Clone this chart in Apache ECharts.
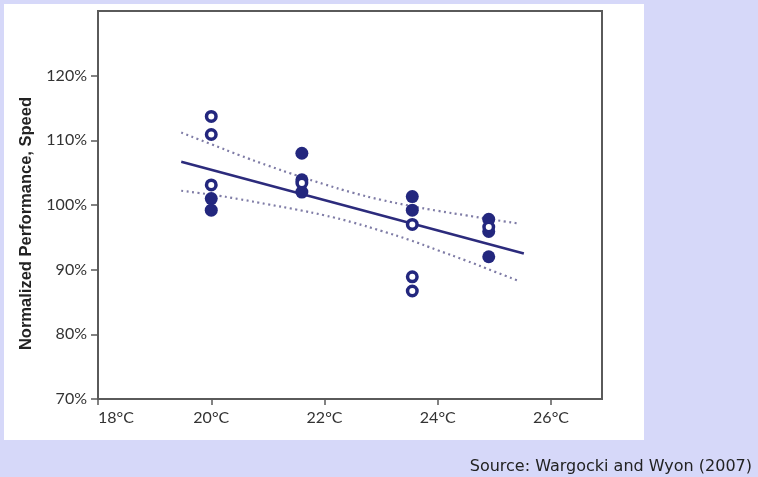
<!DOCTYPE html>
<html>
<head>
<meta charset="utf-8">
<script src="https://cdn.jsdelivr.net/npm/echarts@6/dist/echarts.min.js"></script>
<style>html,body{margin:0;padding:0;background:#d6d8f9;}#c{width:758px;height:477px;}</style>
</head>
<body>
<div id="c"></div>
<script>
// Tick labels
const xTicks = [18, 20, 22, 24, 26];
const yTicks = [70, 80, 90, 100, 110, 120];
// Open-circle observations [temperature °C, normalized performance %]
const openPoints = [[20, 113.7], [20, 110.9], [20, 103.1], [21.6, 103.4], [23.55, 97.0], [23.55, 88.9], [23.55, 86.7], [24.9, 96.6]];
// Filled-circle observations
const filledPoints = [[20, 101.0], [20, 99.2], [21.6, 108.0], [21.6, 103.9], [21.6, 102.0], [23.55, 101.3], [23.55, 99.2], [24.9, 97.8], [24.9, 95.9], [24.9, 92.0]];
// Regression line endpoints
const fitLine = [[19.47, 106.7], [25.52, 92.5]];
// Confidence band
const bandTemps = [19.47, 20, 20.5, 21, 21.5, 22, 22.5, 23, 23.5, 24, 24.5, 25, 25.45];
const bandUpper = [111.2, 109.4, 107.7, 106.1, 104.6, 103.2, 101.9, 100.8, 99.9, 99.1, 98.4, 97.7, 97.1];
const bandLower = [102.2, 101.6, 100.9, 100.1, 99.3, 98.4, 97.3, 96.0, 94.6, 93.0, 91.4, 89.7, 88.2];

const navy = '#23277e';
const chart = echarts.init(document.getElementById('c'), null, {renderer: 'canvas'});
const upperData = bandTemps.map((t, i) => [t, bandUpper[i]]);
const lowerData = bandTemps.map((t, i) => [t, bandLower[i]]);
const labelFont = 'Lato';

chart.setOption({
  backgroundColor: '#d6d8f9',
  animation: false,
  title: {
    text: 'Source: Wargocki and Wyon (2007)',
    right: 6, top: 459, padding: 0,
    textStyle: {fontFamily: 'DejaVu Sans', fontSize: 16, fontWeight: 'normal', color: '#222'}
  },
  graphic: [{
    type: 'rect', z: -10, silent: true,
    shape: {x: 4, y: 4, width: 640, height: 436},
    style: {fill: '#ffffff'}
  }],
  grid: {left: 98, right: 156, top: 11, bottom: 78, show: true, borderColor: '#5a5a5a', borderWidth: 2, backgroundColor: '#ffffff'},
  xAxis: {
    type: 'value', min: 18, max: 26.9,
    axisLine: {show: true, lineStyle: {color: '#5a5a5a', width: 2}},
    axisTick: {show: true, length: 6, lineStyle: {color: '#5a5a5a', width: 1.5}, customValues: xTicks},
    axisLabel: {customValues: xTicks, formatter: v => v + '°C', margin: 11, color: '#333', fontFamily: labelFont, fontSize: 16, alignMinLabel: 'left'},
    splitLine: {show: false}
  },
  yAxis: {
    type: 'value', min: 70, max: 130,
    name: 'Normalized Performance, Speed',
    nameLocation: 'middle', nameGap: 61,
    nameTextStyle: {fontFamily: 'Liberation Sans', fontWeight: 'bold', fontSize: 16.5, color: '#222', padding: [0, 37, 0, 0]},
    axisLine: {show: true, lineStyle: {color: '#5a5a5a', width: 2}},
    axisTick: {show: true, length: 7, lineStyle: {color: '#5a5a5a', width: 1.5}, customValues: yTicks},
    axisLabel: {customValues: yTicks, formatter: v => v + '%', margin: 11, color: '#333', fontFamily: labelFont, fontSize: 16},
    splitLine: {show: false}
  },
  series: [
    {type: 'line', data: upperData, smooth: true, symbol: 'none', z: 2,
     lineStyle: {color: '#7f7ca6', width: 2.2, type: [2, 3.5]}},
    {type: 'line', data: lowerData, smooth: true, symbol: 'none', z: 2,
     lineStyle: {color: '#7f7ca6', width: 2.2, type: [2, 3.5]}},
    {type: 'line', data: fitLine, symbol: 'none', z: 3,
     lineStyle: {color: '#2c2b7c', width: 2.5}},
    {type: 'scatter', data: filledPoints, symbol: 'circle', symbolSize: 13, z: 4,
     itemStyle: {color: navy, opacity: 1}},
    {type: 'scatter', data: openPoints, symbol: 'circle', symbolSize: 9.5, z: 5,
     itemStyle: {color: '#ffffff', borderColor: navy, borderWidth: 3.5, opacity: 1}}
  ]
});
</script>
</body>
</html>
